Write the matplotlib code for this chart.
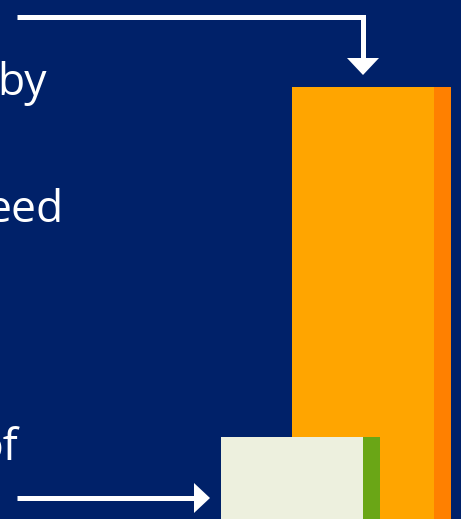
import matplotlib.pyplot as plt
from matplotlib.patches import Polygon

# bar values (in figure pixel units, measured from the bottom edge)
bar_names = ["high", "low"]
bar_heights = [432, 82]
bar_left = [292, 221]
bar_main_w = [142, 142]
bar_strip_w = [17, 17]
main_colors = ["#FFA500", "#EDF0DE"]
strip_colors = ["#FF8000", "#6AA616"]

# cut-off caption fragments on the left
labels = ["by", "eed", "of"]
label_x = [47, 64, 18]
label_y = [519 - 95, 519 - 222, 519 - 460]

bg = "#002169"

W, H = 461, 519
fig = plt.figure(figsize=(W / 100, H / 100), dpi=100)
fig.patch.set_facecolor(bg)
ax = fig.add_axes([0, 0, 1, 1])
ax.set_facecolor(bg)
ax.set_xlim(0, W)
ax.set_ylim(0, H)
ax.axis("off")

for i in range(len(bar_names)):
    ax.bar(bar_left[i], bar_heights[i], width=bar_main_w[i], align="edge",
           color=main_colors[i], linewidth=0)
    ax.bar(bar_left[i] + bar_main_w[i], bar_heights[i], width=bar_strip_w[i],
           align="edge", color=strip_colors[i], linewidth=0)

for t, x, y in zip(labels, label_x, label_y):
    ax.text(x, y, t, ha="right", va="baseline", color="white",
            fontsize=32, family=["Open Sans", "DejaVu Sans"])

# top arrow: right then down onto the tall bar
ax.plot([17, 362.5, 362.5], [H - 16.5, H - 16.5, H - 60], color="white",
        lw=5 * 72 / 100, solid_joinstyle="miter", solid_capstyle="butt")
ax.add_patch(Polygon([[347, H - 58], [379, H - 58], [363, H - 75]],
                     closed=True, color="white", lw=0))

# bottom arrow: right onto the short bar
ax.plot([17, 197], [H - 498, H - 498], color="white",
        lw=5 * 72 / 100, solid_capstyle="butt")
ax.add_patch(Polygon([[194, H - 483], [194, H - 513], [210, H - 498]],
                     closed=True, color="white", lw=0))

fig.savefig("out.png", dpi=100, facecolor=bg)
